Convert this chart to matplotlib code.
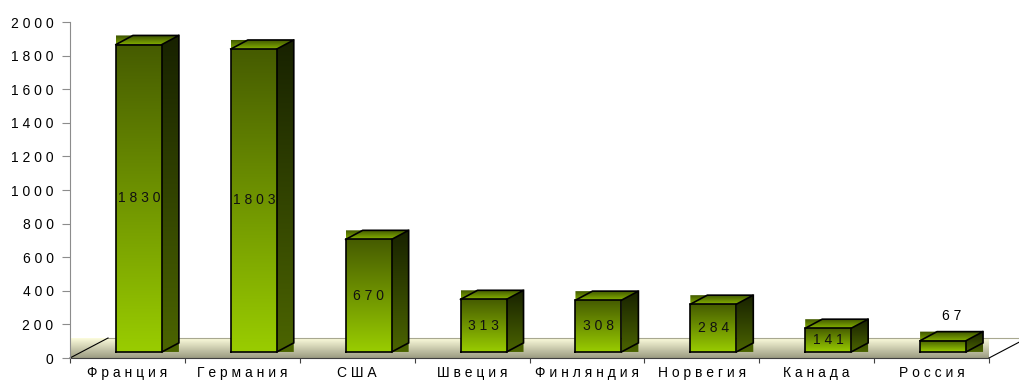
import matplotlib.pyplot as plt
import numpy as np
from matplotlib.colors import to_rgb
from matplotlib.patches import Polygon

countries = ['Франция', 'Германия', 'США', 'Швеция', 'Финляндия', 'Норвегия', 'Канада', 'Россия']
values = [1830, 1803, 670, 313, 308, 284, 141, 67]
y_ticks = list(range(0, 2001, 200))

FONT = 'Liberation Sans'
FS = 10

# pseudo-3D geometry, in data units (x: categories, y: values)
BAR_LEFT = 0.4           # front face start inside the category
BAR_W = 0.4
BASE = 36                # front face bottom above the floor's front edge
DX, DY = 0.148, 54       # bar depth offset
FLOOR_DX, FLOOR_DY = 0.331, 119


def spaced(s):
    """Wide letter spacing like the old office charts."""
    return ' '.join(s)


def gradient(ax, x0, x1, y0, y1, c_bottom, c_top, clip=None, z=2):
    t = np.linspace(0, 1, 64)[:, None, None]
    c0 = np.array(to_rgb(c_bottom))
    c1 = np.array(to_rgb(c_top))
    img = c0 + (c1 - c0) * t
    im = ax.imshow(img, extent=[x0, x1, y0, y1], origin='lower', aspect='auto',
                   interpolation='bilinear', zorder=z)
    if clip is not None:
        poly = Polygon(clip, closed=True, transform=ax.transData)
        im.set_clip_path(poly)
    else:
        im.set_clip_on(False)
    return im


def draw_floor(ax, n):
    pts = [(0, 0), (0, FLOOR_DY), (n + FLOOR_DX, FLOOR_DY), (n, 0)]
    gradient(ax, 0, n + FLOOR_DX, 0, FLOOR_DY, '#9c9c82', '#fcfcdc', clip=pts, z=1)
    ax.plot([FLOOR_DX, n + FLOOR_DX], [FLOOR_DY, FLOOR_DY], color='#a8a890', lw=0.8,
            zorder=1.5, clip_on=False)
    for x in (0, n):
        ax.plot([x, x + FLOOR_DX], [0, FLOOR_DY], color='black', lw=0.8,
                zorder=1.5, clip_on=False)


def draw_bar(ax, i, v):
    x0 = i + BAR_LEFT
    x1 = x0 + BAR_W
    y0 = BASE
    y1 = BASE + v

    # side face and top face are filled over their bounding boxes
    gradient(ax, x1, x1 + DX, y0, y1 + DY, '#4b6400', '#182200',
             clip=[(x1, y0), (x1 + DX, y0), (x1 + DX, y1 + DY), (x1, y1)], z=3)
    gradient(ax, x0, x1 + DX, y1, y1 + DY, '#84b000', '#3a4e00',
             clip=[(x0, y1), (x0, y1 + DY), (x1 + DX, y1 + DY), (x1, y1)], z=3)
    gradient(ax, x0, x1, y0, y1, '#99cc00', '#465c00', z=4)

    kw = dict(color='black', lw=1.2, zorder=5, solid_joinstyle='miter')
    ax.plot([x0, x1, x1, x0, x0], [y0, y0, y1, y1, y0], **kw)
    ax.plot([x0, x0 + DX, x1 + DX, x1], [y1, y1 + DY, y1 + DY, y1], **kw)
    ax.plot([x1 + DX, x1 + DX, x1], [y1 + DY, y0 + DY, y0], **kw)

    if v < 100:
        ax.annotate(spaced(str(v)), xy=((x0 + x1 + DX) / 2, y1 + DY), xytext=(0, 6),
                    textcoords='offset points', ha='center', va='bottom',
                    fontsize=FS, family=FONT, zorder=6)
    else:
        ax.text((x0 + x1) / 2, y0 + v / 2, spaced(str(v)), ha='center', va='center',
                fontsize=FS, family=FONT, color='#111111', zorder=6)


fig = plt.figure(figsize=(10.19, 3.82), dpi=100)
ax = fig.add_axes([70 / 1019, 24 / 382, 919 / 1019, 336 / 382])
ax.patch.set_alpha(0)

n = len(countries)
draw_floor(ax, n)
for i, v in enumerate(values):
    draw_bar(ax, i, v)

ax.set_xlim(0, n)
ax.set_ylim(0, 2000)

for side in ('top', 'right'):
    ax.spines[side].set_visible(False)
ax.spines['left'].set_color('#8c8c8c')
ax.spines['bottom'].set_color('#404040')
ax.spines['bottom'].set_zorder(1.6)

ax.set_yticks(y_ticks)
ax.set_yticklabels([spaced(str(t)) for t in y_ticks], fontsize=FS, family=FONT)
ax.tick_params(axis='y', direction='out', length=5.8, color='#8c8c8c', pad=6)

ax.set_xticks(np.arange(n + 1))
ax.set_xticklabels([])
ax.set_xticks(np.arange(n) + 0.5, minor=True)
ax.set_xticklabels([spaced(c) for c in countries], minor=True, fontsize=FS, family=FONT)
ax.tick_params(axis='x', which='major', direction='out', length=3.6, color='#404040')
ax.tick_params(axis='x', which='minor', length=0, pad=5.5)

fig.savefig('out.png', dpi=100)
